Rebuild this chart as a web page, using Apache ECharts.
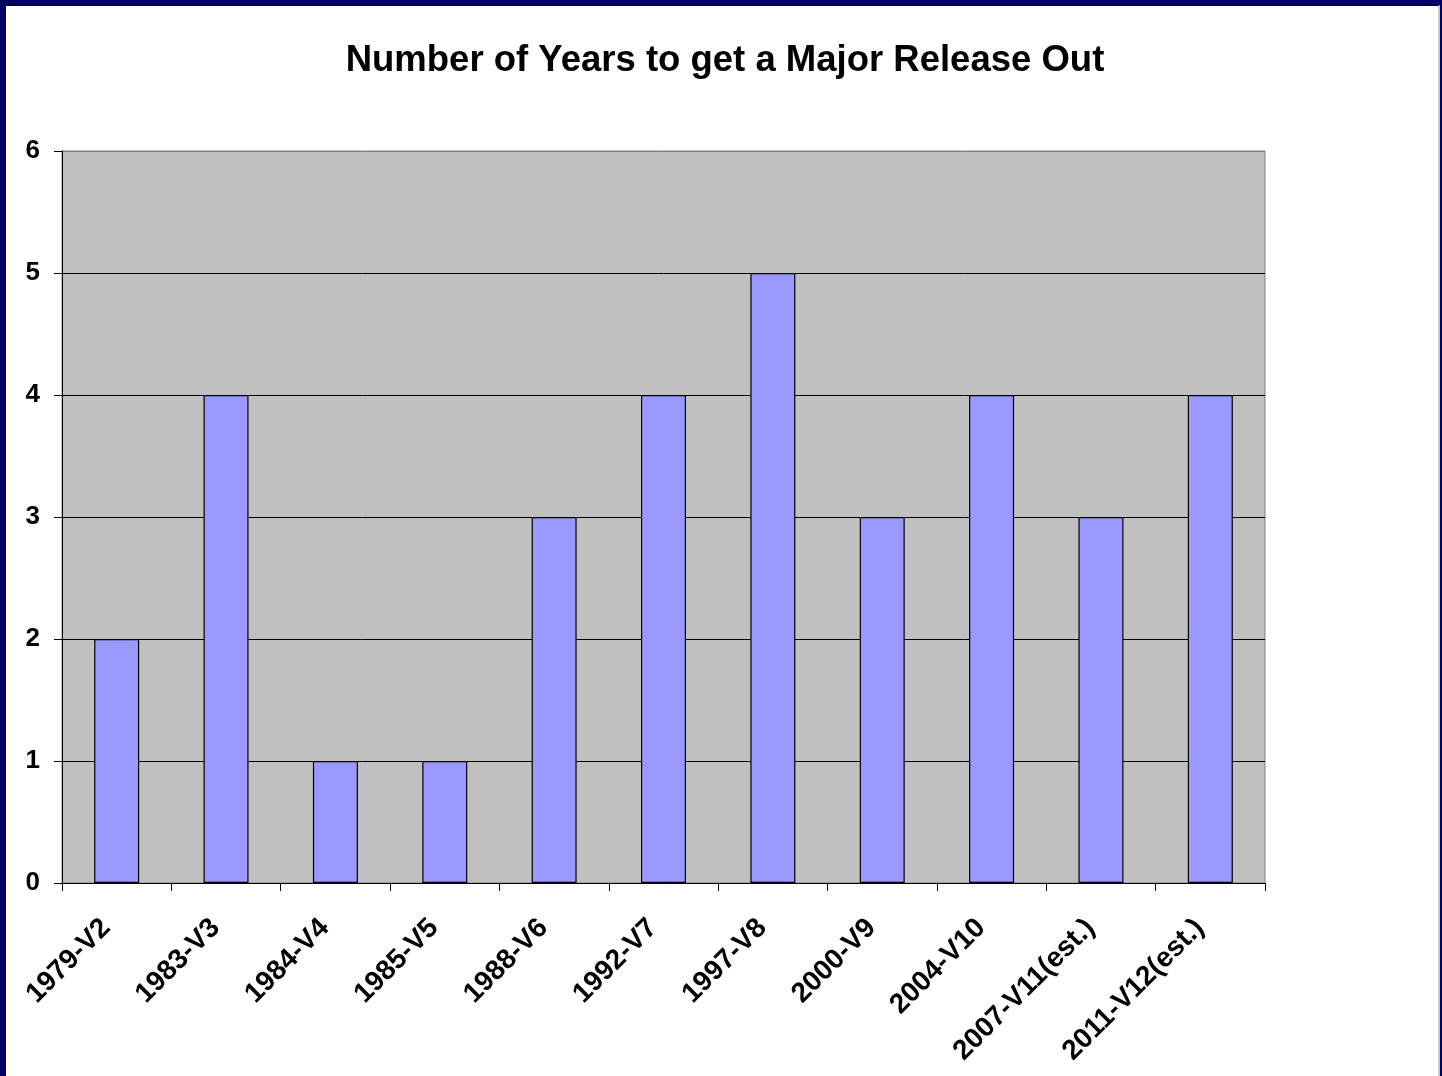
<!DOCTYPE html>
<html><head><meta charset="utf-8">
<script src="https://cdn.jsdelivr.net/npm/echarts@6/dist/echarts.min.js"></script>
<style>
html,body{margin:0;padding:0;background:#fff;}
#frame{position:absolute;left:0;top:0;width:1442px;height:1076px;background:#000060;}
#inner{position:absolute;left:6px;top:5px;width:1434px;height:1071px;background:#fff;border-top:1px solid #000;border-right:2px solid #c8c8c8;box-sizing:border-box;}
#chart{position:absolute;left:0;top:0;width:1432px;height:1070px;}
</style></head>
<body>
<div id="frame"><div id="inner"><div id="chart"></div></div></div>
<script>
const titleText = 'Number of Years to get a Major Release Out';
const categories = ['1979-V2','1983-V3','1984-V4','1985-V5','1988-V6','1992-V7','1997-V8','2000-V9','2004-V10','2007-V11(est.)','2011-V12(est.)'];
const years = [2,4,1,1,3,4,5,3,4,3,4];

const chart = echarts.init(document.getElementById('chart'));
chart.setOption({
  animation:false,
  title:{text:titleText,left:714,top:31,textAlign:'center',
    textStyle:{fontFamily:'Liberation Sans, Arial',fontWeight:'bold',fontSize:36.5,color:'#000'}},
  grid:{left:56,top:145,width:1203,height:732,show:true,backgroundColor:'#c0c0c0',borderColor:'#808080',borderWidth:1},
  xAxis:{type:'category',data:categories,
    axisLine:{lineStyle:{color:'#000',width:1}},
    axisTick:{show:true,alignWithLabel:false,length:8,lineStyle:{color:'#000'}},
    axisLabel:{rotate:45,interval:0,margin:30,padding:[0,15,0,0],fontFamily:'Liberation Sans, Arial',fontWeight:'bold',fontSize:28,color:'#000'}},
  yAxis:{type:'value',min:0,max:6,interval:1,
    axisLine:{show:true,lineStyle:{color:'#000'}},
    axisTick:{show:true,length:8,lineStyle:{color:'#000'}},
    splitLine:{show:true,lineStyle:{color:['#000','#000','#000','#000','#000','#000','#808080'],width:1}},
    axisLabel:{margin:22,fontFamily:'Liberation Sans, Arial',fontWeight:'bold',fontSize:26,color:'#000'}},
  series:[{type:'bar',data:years,barWidth:45,
    itemStyle:{color:'#9999ff',borderColor:'#000',borderWidth:1.2}}]
});
</script>
</body></html>
